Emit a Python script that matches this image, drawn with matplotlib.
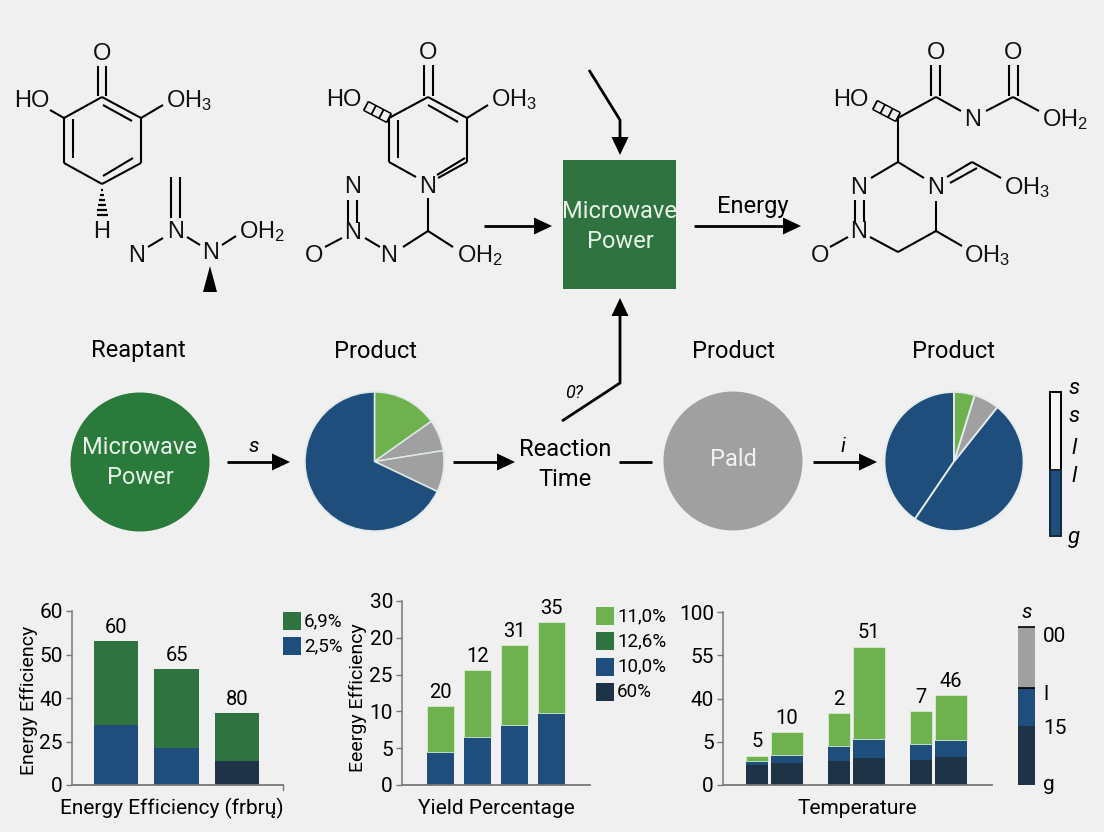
import matplotlib
matplotlib.use('Agg')
import matplotlib.pyplot as plt
from matplotlib.patches import Polygon, Rectangle, Circle
import numpy as np

# values are in tick steps because the tick labels are not evenly scaled
eff_ticks = ['0', '25', '40', '50', '60']
eff_blue = [1.38, 0.85]
eff_navy = [0.55]
eff_green = [1.93, 1.82, 1.11]
eff_labels = ['60', '65', '80']
eff_legend = ['6,9%', '2,5%']

yield_ticks = ['0', '5', '10', '25', '20', '30']
yield_blue = [0.90, 1.30, 1.63, 1.96]
yield_green = [1.25, 1.83, 2.17, 2.47]
yield_labels = ['20', '12', '31', '35']
yield_legend = ['11,0%', '12,6%', '10,0%', '60%']

temp_ticks = ['0', '5', '40', '55', '100']
temp_navy = [[0.46, 0.56, 0.58], [0.515, 0.62, 0.655]]
temp_blue = [[0.095, 0.35, 0.37], [0.175, 0.44, 0.385]]
temp_green = [[0.125, 0.755, 0.76], [0.54, 2.14, 1.04]]
temp_labels = [['5', '2', '7'], ['10', '51', '46']]
temp_key = ['00', 'l', '15', 'g']

pie1_vals = [15.2, 7.3, 9.6, 67.9]
pie3_vals = [40.5, 48.8, 5.9, 4.8]

BG = '#f0f0f0'
GREEN = '#2f7340'
LIGHT = '#6fb14f'
BLUE = '#1f4e7c'
NAVY = '#1f3347'
GRAY = '#a0a0a0'
AXIS = '#777777'
W, H = 1104, 832
NARROW = ['Roboto', 'DejaVu Sans']

plt.rcParams['font.family'] = ['Liberation Sans', 'DejaVu Sans']
plt.rcParams['mathtext.default'] = 'regular'

fig = plt.figure(figsize=(W / 100, H / 100), dpi=100, facecolor=BG)

# whole figure axes in pixel coords for the diagram parts
ov = fig.add_axes([0, 0, 1, 1], zorder=5)
ov.set_xlim(0, W)
ov.set_ylim(H, 0)
ov.axis('off')


def box_axes(l, t, r, b):
    a = fig.add_axes([l / W, 1 - b / H, (r - l) / W, (b - t) / H])
    a.set_facecolor('none')
    return a


def seg(*pts, lw=1.5):
    xs = [p[0] for p in pts]
    ys = [p[1] for p in pts]
    ov.plot(xs, ys, color='black', lw=lw, solid_capstyle='butt', solid_joinstyle='miter')


def atom(x, y, s, ha='center'):
    ov.text(x, y, s, fontsize=17, ha=ha, va='center', color='#111111')


def label(x, y, s, size=17, color='black', style='normal', rot=0):
    ov.text(x, y, s, fontsize=size, ha='center', va='center', color=color, family=NARROW,
            style=style, rotation=rot)


def head(x, y, dx, dy):
    # filled triangle, tip at x,y pointing along dx,dy
    px, py = -dy, dx
    ov.add_patch(Polygon([(x, y), (x - 18 * dx + 8.5 * px, y - 18 * dy + 8.5 * py),
                          (x - 18 * dx - 8.5 * px, y - 18 * dy - 8.5 * py)], color='black', lw=0))


def hatch(p0, p1, n=4, w=5):
    p0, p1 = np.array(p0, float), np.array(p1, float)
    d = p1 - p0
    d = d / np.hypot(*d)
    nrm = np.array([-d[1], d[0]])
    seg(p0 + nrm * w, p1 + nrm * w, lw=1.1)
    seg(p0 - nrm * w, p1 - nrm * w, lw=1.1)
    for t in np.linspace(0, 1, n):
        c = p0 + (p1 - p0) * t
        seg(c - nrm * w, c + nrm * w, lw=1.3)


# molecule 1
for a, b in [((102, 97), (141, 118)), ((141, 118), (141, 163)), ((141, 163), (102, 184)),
             ((102, 184), (64, 163)), ((64, 163), (64, 118)), ((64, 118), (102, 97)),
             ((98, 66), (98, 96)), ((106, 66), (106, 96)), ((103, 105), (132, 121)),
             ((73, 119), (73, 158)), ((103, 176), (133, 158)), ((50, 110), (64, 118)),
             ((141, 118), (163, 105)), ((171, 177), (171, 218)), ((180, 177), (180, 218)),
             ((148, 247), (163, 238)), ((187, 237), (200, 245)), ((222, 245), (236, 236))]:
    seg(a, b)
for i, y in enumerate(range(190, 220, 5)):
    seg((102 - 1 - i * 0.9, y), (102 + 1 + i * 0.9, y), lw=1.6)
ov.add_patch(Polygon([(210, 266), (203, 292), (217, 292)], color='black', lw=0))
atom(102, 54, 'O')
atom(32, 101, 'HO')
atom(166, 101, 'OH$_3$', ha='left')
atom(102, 232, 'H')
atom(137, 256, 'N')
atom(176, 232, 'N')
atom(211, 253, 'N')
atom(239, 232, 'OH$_2$', ha='left')

# molecule 2
for a, b in [((428, 97), (467, 118)), ((467, 118), (467, 162)), ((467, 162), (438, 178)),
             ((416, 177), (389, 162)), ((389, 162), (389, 118)), ((389, 118), (428, 97)),
             ((424, 65), (424, 96)), ((433, 65), (433, 96)), ((428, 105), (458, 122)),
             ((398, 120), (398, 158)), ((437, 175), (465, 158)), ((467, 118), (488, 105)),
             ((428, 198), (428, 231)), ((428, 231), (403, 247)), ((428, 231), (453, 247)),
             ((348, 200), (348, 223)), ((357, 200), (357, 223)), ((325, 247), (342, 238)),
             ((365, 238), (380, 247))]:
    seg(a, b)
hatch((389, 118), (366, 106))
atom(428, 53, 'O')
atom(344, 100, 'HO')
atom(491, 100, 'OH$_3$', ha='left')
atom(428, 187, 'N')
atom(389, 256, 'N')
atom(353, 233, 'N')
atom(353, 187, 'N')
atom(314, 256, 'O')
atom(457, 256, 'OH$_2$', ha='left')

# molecule 3
for a, b in [((931, 65), (931, 96)), ((940, 65), (940, 96)), ((1009, 65), (1009, 96)),
             ((1018, 65), (1018, 96)), ((936, 97), (898, 118)), ((936, 97), (961, 111)),
             ((986, 111), (1013, 97)), ((1013, 97), (1039, 111)), ((898, 118), (898, 162)),
             ((898, 162), (871, 178)), ((898, 162), (924, 178)), ((855, 200), (855, 222)),
             ((864, 200), (864, 222)), ((830, 247), (848, 237)), ((870, 237), (898, 252)),
             ((898, 252), (936, 231)), ((936, 231), (962, 246)), ((936, 231), (936, 201)),
             ((947, 177), (972, 162)), ((950, 183), (977, 168)), ((972, 162), (1001, 178))]:
    seg(a, b)
hatch((898, 117), (875, 105))
atom(936, 53, 'O')
atom(1013, 53, 'O')
atom(851, 100, 'HO')
atom(973, 120, 'N')
atom(1042, 120, 'OH$_2$', ha='left')
atom(859, 188, 'N')
atom(859, 232, 'N')
atom(820, 256, 'O')
atom(936, 188, 'N')
atom(1004, 188, 'OH$_3$', ha='left')
atom(964, 256, 'OH$_3$', ha='left')

# box and arrows, top row
ov.add_patch(Rectangle((563, 160), 113, 129, color=GREEN, lw=0))
label(620, 212, 'Microwave', 17, '#e8f2e8')
label(620, 241, 'Power', 17, '#e8f2e8')
seg((589, 70), (620, 120), (620, 140), lw=2)
head(620, 155, 0, 1)
seg((484, 226), (535, 226), lw=2)
head(552, 226, 1, 0)
seg((694, 226), (785, 226), lw=2)
head(801, 226, 1, 0)
label(753, 207, 'Energy', 17)

# middle row
label(138, 351, 'Reaptant', 17)
label(375, 351, 'Product', 17)
label(733, 351, 'Product', 17)
label(954, 351, 'Product', 17)

ov.add_patch(Circle((140, 462), 69.5, color='#2a7a3c', lw=0))
label(140, 447, 'Microwave', 17, '#e8f2e8')
label(140, 477, 'Power', 17, '#e8f2e8')
ov.add_patch(Circle((733, 461), 69.5, color=GRAY, lw=0))
label(733, 460, 'Pald', 17, '#f2f2f2')

pa = box_axes(374.5 - 69.5, 461.5 - 69.5, 374.5 + 69.5, 461.5 + 69.5)
pa.pie(pie1_vals, colors=[LIGHT, GRAY, GRAY, BLUE], startangle=90, counterclock=False,
       radius=1, wedgeprops={'edgecolor': '#dfe8e8', 'linewidth': 1.1})
pa.set_xlim(-1, 1)
pa.set_ylim(-1, 1)

pb = box_axes(954 - 69.5, 461.5 - 69.5, 954 + 69.5, 461.5 + 69.5)
pb.pie(pie3_vals, colors=[BLUE, BLUE, GRAY, LIGHT], startangle=90,
       radius=1, wedgeprops={'edgecolor': '#e4ecec', 'linewidth': 1.3})
pb.set_xlim(-1, 1)
pb.set_ylim(-1, 1)

seg((227, 462), (273, 462), lw=2)
head(290, 462, 1, 0)
label(254, 446, 's', 15, style='italic')
seg((453, 462), (498, 462), lw=2)
head(515, 462, 1, 0)
label(565, 450, 'Reaction', 17)
label(565, 480, 'Time', 17)
seg((619, 462), (652, 462), lw=2)
seg((813, 462), (860, 462), lw=2)
head(877, 462, 1, 0)
label(843, 446, 'i', 15, style='italic')
seg((562, 421), (620, 383), (620, 315), lw=2)
head(620, 298, 0, -1)
label(574, 393, '0?', 13, style='italic')

# small key by the last pie
ov.add_patch(Rectangle((1050, 392), 11, 78, facecolor='#f6f6f6', edgecolor='black', lw=1.4))
ov.add_patch(Rectangle((1050, 470), 11, 66, facecolor=BLUE, edgecolor='#14283c', lw=1.4))
for y, s in zip([388, 417, 449, 477, 537], ['s', 's', 'l', 'l', 'g']):
    label(1074, y, s, 16, style='italic')


def style_bars(a, ticks):
    a.set_yticks(range(len(ticks)))
    a.set_yticklabels(ticks, family=NARROW, fontsize=15)
    a.set_ylim(0, len(ticks) - 1)
    a.set_xticks([])
    a.tick_params(axis='y', length=4.5, width=1, color=AXIS, pad=2)
    a.spines['top'].set_visible(False)
    a.spines['right'].set_visible(False)
    a.spines['left'].set_color(AXIS)
    a.spines['bottom'].set_color(AXIS)
    a.spines['left'].set_linewidth(1.1)
    a.spines['bottom'].set_linewidth(1.3)


def bar_text(a, x, y, s):
    a.annotate(s, (x, y), xytext=(0, 3), textcoords='offset points', ha='center', va='bottom',
               fontsize=14.5, family=NARROW, clip_on=False)


def key(x, y0, step, colors, names):
    for i, (c, s) in enumerate(zip(colors, names)):
        ov.add_patch(Rectangle((x, y0 + i * step), 18, 18, color=c, lw=0))
        ov.text(x + 21, y0 + i * step + 9, s, fontsize=13.5, family=NARROW, va='center')


# chart 1
ax1 = box_axes(72, 611, 283, 785)
x1 = np.arange(3)
ax1.bar(x1[:2], eff_blue, 0.73, color=BLUE)
ax1.bar(x1[2:], eff_navy, 0.73, color=NAVY)
base1 = np.array(eff_blue + eff_navy)
ax1.bar(x1, eff_green, 0.73, bottom=base1, color=GREEN)
for x, y, s in zip(x1, base1 + np.array(eff_green), eff_labels):
    bar_text(ax1, x, y, s)
ax1.set_xlim(-0.727, 2.76)
style_bars(ax1, eff_ticks)
ov.plot([283, 283], [785, 790], color=AXIS, lw=1)
label(29, 700, 'Energy Efficiency', 14, rot=90)
label(172, 808, 'Energy Efficiency (frbrų)', 15)
key(283, 612, 25, [GREEN, BLUE], eff_legend)

# chart 2
ax2 = box_axes(402, 601, 590, 785)
x2 = np.arange(4)
ax2.bar(x2, yield_blue, 0.75, color=BLUE)
ax2.bar(x2, yield_green, 0.75, bottom=yield_blue, color=LIGHT, edgecolor='#d8ecd0', linewidth=0.6)
for x, y, s in zip(x2, np.array(yield_blue) + np.array(yield_green), yield_labels):
    bar_text(ax2, x, y, s)
ax2.set_xlim((402 - 440.5) / 37, (590 - 440.5) / 37)
style_bars(ax2, yield_ticks)
label(358, 698, 'Eeergy Efficiency', 14, rot=90)
label(496, 808, 'Yield Percentage', 15)
key(596, 607, 25.3, [LIGHT, GREEN, BLUE, NAVY], yield_legend)

# chart 3
ax3 = box_axes(723, 612, 992, 785)
bar_w = [0.27, 0.40]
for k in range(2):
    xs = np.arange(3) + (0 if k == 0 else 0.30)
    navy = np.array(temp_navy[k])
    blue = np.array(temp_blue[k])
    green = np.array(temp_green[k])
    ax3.bar(xs, navy, bar_w[k], align='edge', color=NAVY)
    ax3.bar(xs, blue, bar_w[k], bottom=navy, align='edge', color=BLUE)
    ax3.bar(xs, green, bar_w[k], bottom=navy + blue, align='edge', color=LIGHT, edgecolor='#d8ecd0',
            linewidth=0.6)
    for x, y, s in zip(xs + bar_w[k] / 2, navy + blue + green, temp_labels[k]):
        bar_text(ax3, x, y, s)
ax3.set_xlim(-0.28, 3.0)
style_bars(ax3, temp_ticks)
label(857, 808, 'Temperature', 15)

ov.add_patch(Rectangle((1018, 627), 17, 61, facecolor=GRAY, edgecolor='none'))
ov.add_patch(Rectangle((1018, 688), 17, 38, facecolor=BLUE, edgecolor='none'))
ov.add_patch(Rectangle((1018, 726), 17, 59, facecolor=NAVY, edgecolor='none'))
seg((1018, 627), (1035, 627), lw=1.2)
seg((1018, 688), (1035, 688), lw=1.2)
label(1027, 613, 's', 15, style='italic')
for y, s in zip([636, 695, 729, 785], temp_key):
    ov.text(1043, y, s, fontsize=15, family=NARROW, va='center')

fig.savefig('out.png', dpi=100, facecolor=BG)
